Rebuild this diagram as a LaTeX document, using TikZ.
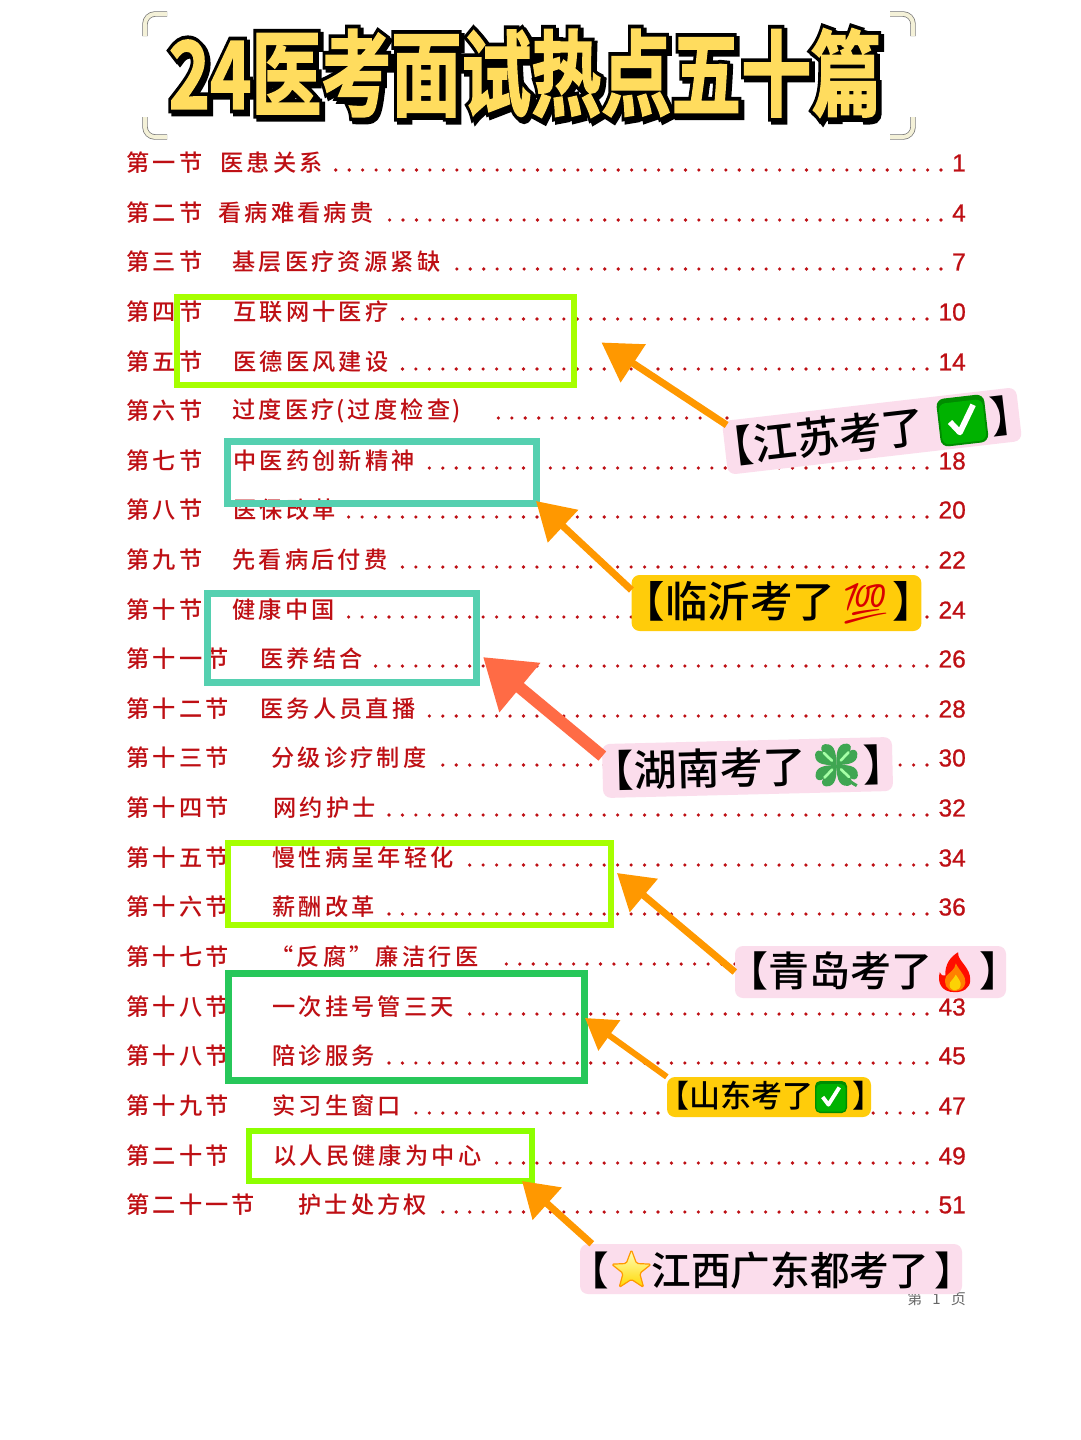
\documentclass[tikz,border=0pt]{standalone}
\usepackage{graphicx}
\usepackage{xcolor}
\usepackage{fontspec}
\usetikzlibrary{arrows.meta}
\setmainfont{Noto Sans CJK SC}
\newfontfamily\rowfont[LetterSpace=14]{Noto Sans CJK SC Medium}
\newfontfamily\numfont[FakeBold=0.8]{Liberation Sans}
\newfontfamily\emojifont{Noto Emoji}
\newfontfamily\tagfont{Noto Sans CJK SC Medium}
\newfontfamily\titleback[FakeBold=10]{Noto Sans CJK SC Bold}
\newfontfamily\titlefront[FakeBold=2]{Noto Sans CJK SC Bold}
\definecolor{tocred}{HTML}{BE0F14}
\definecolor{limebox}{HTML}{A6FF00}
\definecolor{tealbox}{HTML}{55D0B0}
\definecolor{greenbox}{HTML}{27C75A}
\definecolor{arroworange}{HTML}{FF9800}
\definecolor{arrowtomato}{HTML}{FF6B45}
\definecolor{tagpink}{HTML}{FBDDEC}
\definecolor{tagyellow}{HTML}{FFCC0A}
\definecolor{titleyellow}{HTML}{FFDC5E}
\definecolor{cornercream}{HTML}{F4F1D8}
\definecolor{cloverleaf}{HTML}{3FA652}
\tikzset{
  sectxt/.style={anchor=west,inner sep=0pt,text=tocred,font=\rowfont\fontsize{23.2}{23.2}\selectfont},
  numtxt/.style={anchor=east,inner sep=0pt,text=tocred,font=\numfont\fontsize{24.5}{24.5}\selectfont},
  leader/.style={tocred,line width=3.6pt,line cap=round,dash pattern=on 0pt off 13.45pt},
  hotbox/.style={line width=#1,line join=miter},
  callarrow/.style={line width=7pt},
  tag/.style={rounded corners=8pt,inner ysep=0pt,inner xsep=-14pt,text=black,font=\tagfont\fontsize{#1}{#1}\selectfont},
  corner/.style={draw=black!55,line width=.7pt,double=cornercream,double distance=4pt,rounded corners=10pt},
}
% one line of the contents: id, y, section, topic, x of topic, x of first dot, end of dots, page
\newcommand\tocrow[8]{
  \draw[leader] (#7,#2+7) -- (#6,#2+7);
  \node[sectxt] (sec#1) at (126,#2) {#3};
  \node[sectxt] (topic#1) at (#5,#2) {#4};
  \node[numtxt] (page#1) at (966,#2) {#8};
}
\newcommand\checkicon[1]{\tikz[baseline=.16*#1pt,x=#1pt,y=#1pt,sharp corners]{
  \fill[green!55!black,rounded corners=.16*#1pt] (0,0) rectangle (1,1);
  \fill[green!70!black,rounded corners=.14*#1pt] (.04,.04) rectangle (.96,.9);
  \draw[white,line width=.12*#1pt,line join=round] (.24,.5) -- (.42,.26) -- (.76,.8);
}}
\newcommand\staricon[1]{\tikz[baseline=.12*#1pt,x=#1pt,y=#1pt,sharp corners]{
  \draw[draw=orange!80!yellow,line width=.03*#1pt,top color=yellow!25,bottom color=yellow!70!orange,line join=round,rounded corners=.04*#1pt,shift={(.5,.48)}]
    (90:.52) -- (126:.22) -- (162:.52) -- (198:.22) -- (234:.52) -- (270:.22) -- (306:.52) -- (342:.22) -- (18:.52) -- (54:.22) -- cycle;
}}
\newcommand\leafpart[2]{
  \begin{scope}[rotate around={#2:(.5,.5)}]
  \fill[cloverleaf] (.5,.5) .. controls (.3,.5) and (0,.5) .. (.02,.75) .. controls (.03,.85) and (.14,.86) .. (.2,.8) .. controls (.14,.86) and (.15,.97) .. (.25,.98) .. controls (.5,1) and (.5,.7) .. (.5,.5) -- cycle;
  \draw[green!35!white,line width=.06*#1pt,line cap=round] (.4,.6) -- (.22,.78);
  \end{scope}
}
\newcommand\clovericon[1]{\tikz[baseline=.12*#1pt,x=#1pt,y=#1pt,sharp corners]{
  \draw[cloverleaf,line width=.07*#1pt] (.5,.5) .. controls (.6,.3) and (.72,.15) .. (.95,.02);
  \leafpart{#1}{0}
  \leafpart{#1}{90}
  \leafpart{#1}{180}
  \leafpart{#1}{270}
}}
\newcommand\fireicon[1]{\tikz[baseline=.14*#1pt,x=#1pt,y=#1pt,sharp corners]{
  \fill[red!90!orange] (.5,0) .. controls (.15,0) and (.05,.25) .. (.12,.5) .. controls (.16,.42) and (.2,.4) .. (.26,.42) .. controls (.24,.7) and (.4,.9) .. (.58,1) .. controls (.54,.8) and (.9,.62) .. (.88,.3) .. controls (.88,.1) and (.7,0) .. (.5,0) -- cycle;
  \fill[orange] (.5,.03) .. controls (.28,.03) and (.2,.22) .. (.28,.4) .. controls (.36,.5) and (.5,.55) .. (.52,.72) .. controls (.6,.55) and (.78,.4) .. (.76,.24) .. controls (.74,.1) and (.64,.03) .. (.5,.03) -- cycle;
  \fill[yellow!70!orange] (.5,.05) .. controls (.38,.05) and (.34,.16) .. (.38,.25) .. controls (.42,.32) and (.5,.36) .. (.52,.44) .. controls (.58,.34) and (.66,.26) .. (.64,.17) .. controls (.62,.09) and (.58,.05) .. (.5,.05) -- cycle;
}}

\begin{document}
\begin{tikzpicture}[x=1pt,y=-1pt]
  \useasboundingbox[fill=white] (0,0) rectangle (1080,1440);

  % title
  \draw[corner] (167,14) -- (145,14) -- (145,36);
  \draw[corner] (890,14) -- (913,14) -- (913,36);
  \draw[corner] (145,117) -- (145,137) -- (167,137);
  \draw[corner] (913,117) -- (913,137) -- (890,137);
  \draw[blue!70!cyan,line width=2.5pt] (563,78) .. controls (566,96) and (574,104) .. (586,112);
  \node[inner sep=0pt] (titleshadow) at (528,76) {\resizebox{712pt}{80pt}{\titleback\color{black}24医考面试热点五十篇}};
  \node[inner sep=0pt] (titleedge) at (525,73) {\resizebox{712pt}{80pt}{\titleback\color{black}24医考面试热点五十篇}};
  \node[inner sep=0pt] (titlemain) at (525,73) {\resizebox{712pt}{80pt}{\titlefront\color{titleyellow}24医考面试热点五十篇}};

  % contents
  \tocrow{a}{163}{第一节}{医患关系}{220}{335}{941}{1}
  \tocrow{b}{213}{第二节}{看病难看病贵}{218}{388}{941}{4}
  \tocrow{c}{262}{第三节}{基层医疗资源紧缺}{232}{455}{941}{7}
  \tocrow{d}{312}{第四节}{互联网十医疗}{233}{400}{927}{10}
  \tocrow{e}{362}{第五节}{医德医风建设}{233}{400}{927}{14}
  \tocrow{f}{411}{第六节}{过度医疗\hspace{2pt}(\hspace{3pt}过度检查\hspace{2pt})}{232}{495}{727}{}
  \tocrow{g}{461}{第七节}{中医药创新精神}{233}{425}{927}{18}
  \tocrow{h}{510}{第八节}{医保改革}{233}{345}{927}{20}
  \tocrow{i}{560}{第九节}{先看病后付费}{232}{398}{927}{22}
  \tocrow{j}{610}{第十节}{健康中国}{232}{345}{927}{24}
  \tocrow{k}{659}{第十一节}{医养结合}{260}{372}{927}{26}
  \tocrow{l}{709}{第十二节}{医务人员直播}{260}{426}{927}{28}
  \tocrow{m}{758}{第十三节}{分级诊疗制度}{271}{440}{927}{30}
  \tocrow{n}{808}{第十四节}{网约护士}{273}{386}{927}{32}
  \tocrow{o}{858}{第十五节}{慢性病呈年轻化}{272}{466}{927}{34}
  \tocrow{p}{907}{第十六节}{薪酬改革}{272}{386}{927}{36}
  \tocrow{q}{957}{第十七节}{“反腐”廉洁行医}{270}{493}{735}{}
  \tocrow{r}{1007}{第十八节}{一次挂号管三天}{272}{466}{927}{43}
  \tocrow{s}{1056}{第十八节}{陪诊服务}{272}{386}{927}{45}
  \tocrow{t}{1106}{第十九节}{实习生窗口}{272}{413}{927}{47}
  \tocrow{u}{1156}{第二十节}{以人民健康为中心}{273}{493}{927}{49}
  \tocrow{v}{1205}{第二十一节}{护士处方权}{298}{440}{927}{51}
  \node[anchor=east,inner sep=0pt,text=black!60,font=\fontsize{15}{15}\selectfont] (pagefoot) at (966,1299) {第\ \ \ 1\ \ \ 页};

  % boxes round the topics
  \draw[hotbox=6pt,limebox] (177,297) rectangle (574,385);
  \draw[hotbox=7pt,tealbox] (227.5,441.5) rectangle (536.5,503);
  \draw[hotbox=7pt,tealbox] (207.5,593.5) rectangle (476.5,682.5);
  \draw[hotbox=6pt,limebox] (228,843) rectangle (611,925);
  \draw[hotbox=7pt,greenbox] (228.5,973.5) rectangle (584.5,1080.5);
  \draw[hotbox=6pt,limebox!85!green] (249,1131) rectangle (532,1181);

  % arrow ends
  \coordinate (jiangsutip) at (601.5,342.5);
  \coordinate (linyitip) at (536,501);
  \coordinate (hunantip) at (483,657);
  \coordinate (qingdaotip) at (617,873);
  \coordinate (shandongtip) at (585,1018);
  \coordinate (guangdongtip) at (522,1181);

  % labels, then their arrows
  \node[tag=43,fill=tagpink,minimum width=296pt,minimum height=54pt,rotate=6.6] (jiangsu) at (872,431) {【江苏考了\hspace{14pt}\checkicon{48}\hspace{4pt}】};
  \node[tag=42.5,fill=tagyellow,minimum width=289pt,minimum height=56pt] (linyi) at (776.5,603) {\hspace{5pt}【临沂考了\hspace{5pt}{\emojifont\color{red!85!black}\fontsize{40}{40}\selectfont 💯}\hspace{2pt}】};
  \node[tag=43,fill=tagpink,minimum width=288pt,minimum height=54pt,rotate=1.4] (hunan) at (747.5,767.5) {\hspace{3pt}【湖南考了\hspace{8pt}\clovericon{44}\hspace{5pt}】};
  \node[tag=41,fill=tagpink,minimum width=269pt,minimum height=52pt] (qingdao) at (870.5,972) {\hspace{6pt}【青岛考了\hspace{5pt}\fireicon{40}\hspace{8pt}】};
  \node[tag=31,fill=tagyellow,minimum width=204pt,minimum height=40pt] (shandong) at (769,1097) {\hspace{3pt}【山东考了\hspace{2pt}\checkicon{32}\hspace{5pt}】};
  \node[tag=39.6,fill=tagpink,minimum width=382pt,minimum height=50pt] (guangdong) at (771,1269) {\hspace{2pt}【\hspace{2pt}\staricon{40}江西广东都考了\hspace{6pt}】};
  \draw[callarrow,arroworange,-{Triangle[length=38pt,width=44pt]}] ([yshift=-4pt,xshift=5pt]jiangsu.north west) -- (jiangsutip);
  \draw[callarrow,arroworange,-{Triangle[length=37pt,width=43pt]}] ([yshift=13pt]linyi.west) -- (linyitip);
  \draw[callarrow,arrowtomato,line width=12pt,-{Triangle[length=48pt,width=61pt]}] ([yshift=15pt]hunan.west) -- (hunantip);
  \draw[callarrow,arroworange,-{Triangle[length=35pt,width=42pt]}] (qingdao.west) -- (qingdaotip);
  \draw[callarrow,arroworange,line width=6pt,-{Triangle[length=30pt,width=36pt]}] (shandong.north west) -- (shandongtip);
  \draw[callarrow,arroworange,-{Triangle[length=34pt,width=42pt]}] ([xshift=12pt]guangdong.north west) -- (guangdongtip);
\end{tikzpicture}
\end{document}
